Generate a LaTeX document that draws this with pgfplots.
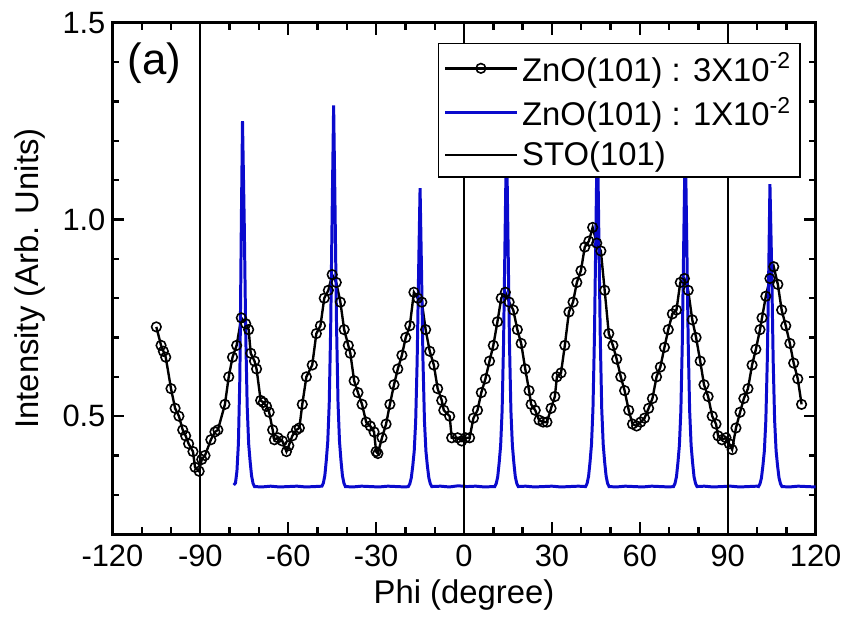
\documentclass[border=0pt]{standalone}
\usepackage{pgfplots}
\pgfplotsset{compat=1.18}
\usepackage{fontspec}
\setmainfont{Liberation Sans}
\definecolor{myblue}{RGB}{10,10,205}
\begin{document}
\begin{tikzpicture}
\begin{axis}[
  width=353.5pt, height=257pt, scale only axis,
  xmin=-120, xmax=120, ymin=0.2, ymax=1.5,
  xtick={-120,-90,...,120},
  minor xtick={-110,-100,-80,-70,-50,-40,-20,-10,10,20,40,50,70,80,100,110},
  ytick={0.5,1.0,1.5},
  minor ytick={0.3,0.4,0.6,0.7,0.8,0.9,1.1,1.2,1.3,1.4},
  major tick length=6pt, minor tick length=3.5pt,
  every tick/.style={black, line width=1.2pt},
  axis line style={line width=1.5pt},
  tick align=inside,
  yticklabel style={/pgf/number format/.cd, fixed, fixed zerofill, precision=1, assume math mode=true},
  xticklabel style={/pgf/number format/assume math mode=true, yshift=-2pt},
  tick label style={font=\fontsize{15.5}{18}\selectfont},
  label style={font=\fontsize{16.5}{19}\selectfont},
  xlabel={Phi (degree)},
  ylabel={Intensity (Arb. Units)},
  xlabel style={at={(axis description cs:0.5,-0.1187)}, anchor=center},
  ylabel style={at={(axis description cs:-0.117,0.5)}, anchor=center, rotate=0},
  unbounded coords=jump,
  legend cell align=left,
  legend style={at={(rel axis cs:0.979,0.961)}, anchor=north east,
    font=\fontsize{16.5}{19}\selectfont, draw=black, line width=0.8pt, fill=white,
    inner sep=2.5pt, row sep=2.5pt},
  legend image code/.code={\draw[mark repeat=2,mark phase=2] plot coordinates {(0pt,0pt) (18pt,0pt) (36pt,0pt)};},
  clip=true,
]
\addplot[black, line width=1.2pt, mark=o, mark size=2.4pt, mark options={fill=white, line width=0.8pt}]
coordinates {
(-105,0.727)(-103.4,0.68)(-102.6,0.665)(-101.8,0.65)(-100,0.57)(-98.6,0.52)(-97.3,0.50)(-96,0.465)(-95,0.45)(-94,0.43)(-92.5,0.41)(-91.8,0.37)(-90.4,0.36)(-89.5,0.39)(-88.4,0.40)(-86.4,0.44)(-85,0.46)(-84,0.465)(-81.6,0.53)(-80.3,0.60)(-79,0.65)(-77.6,0.68)(-76,0.75)(-74.5,0.735)(-73.5,0.72)(-72.8,0.66)(-71.5,0.64)(-70.8,0.62)(-69.4,0.54)(-68.5,0.535)(-67.4,0.525)(-66.5,0.51)(-65.3,0.465)(-64.7,0.44)(-63.5,0.445)(-62,0.437)(-60.6,0.41)(-59.8,0.425)(-58.6,0.45)(-57.2,0.465)(-56.2,0.47)(-55.2,0.53)(-53.8,0.60)(-51.8,0.63)(-50.4,0.71)(-49,0.73)(-47.7,0.80)(-46.3,0.82)(-45,0.86)(-43.6,0.84)(-42.2,0.79)(-40.9,0.72)(-39.5,0.68)(-38.8,0.66)(-37.5,0.59)(-36.2,0.56)(-34.8,0.53)(-33.4,0.485)(-32,0.475)(-30.7,0.46)(-30,0.41)(-29.4,0.405)(-28,0.445)(-26.6,0.48)(-25.3,0.53)(-23.9,0.58)(-22.6,0.62)(-21.2,0.655)(-19.9,0.70)(-18.5,0.73)(-17.1,0.815)(-15.8,0.80)(-14.4,0.79)(-13.1,0.72)(-11.7,0.665)(-10.3,0.63)(-9,0.57)(-7.6,0.54)(-6.9,0.515)(-4.9,0.50)(-4.2,0.445)(-2.2,0.445)(-0.8,0.437)(0.5,0.445)(1.9,0.445)(3.2,0.495)(4.6,0.515)(5.9,0.56)(7.3,0.595)(8.7,0.64)(10,0.68)(11.4,0.74)(12.7,0.80)(14.1,0.815)(15.4,0.79)(16.8,0.77)(18.2,0.72)(19.5,0.685)(20.9,0.62)(22.2,0.565)(22.9,0.53)(24.3,0.515)(25.6,0.49)(27,0.485)(28.3,0.485)(29.7,0.52)(31,0.55)(31.7,0.60)(33.1,0.61)(34.4,0.68)(35.8,0.765)(37.2,0.79)(38.5,0.84)(39.9,0.87)(41.2,0.93)(42.6,0.945)(43.9,0.98)(45.3,0.94)(46.7,0.92)(48,0.82)(49.4,0.71)(50.8,0.68)(52.1,0.645)(53.5,0.60)(54.8,0.565)(56.2,0.515)(57.5,0.48)(58.9,0.475)(60.3,0.485)(61.6,0.495)(63,0.52)(64.3,0.545)(65.7,0.60)(67,0.625)(68.4,0.675)(69.7,0.72)(71.1,0.76)(72.5,0.77)(73.8,0.84)(75.2,0.85)(76.5,0.82)(77.9,0.745)(79.2,0.70)(80.6,0.64)(81.9,0.58)(83.3,0.55)(84.7,0.50)(86,0.48)(86.7,0.45)(88,0.44)(89.4,0.445)(90.5,0.43)(91.5,0.415)(92.8,0.47)(94.2,0.51)(95.5,0.545)(96.9,0.57)(98.3,0.63)(99.6,0.67)(101,0.72)(101.7,0.75)(103,0.805)(104.4,0.85)(105.7,0.88)(107.1,0.835)(108.4,0.77)(109.8,0.73)(111.2,0.685)(112.5,0.635)(113.9,0.595)(115.2,0.53)
};
\addlegendentry{ZnO(101) : 3X10\textsuperscript{-2}}
\addplot[myblue, line width=1.5pt, mark=none]
coordinates {
(-78.6,0.325)(-78,0.33)(-77.5,0.36)(-77,0.43)(-76.5,0.60)(-76,0.99)(-75.6,1.25)(-75,0.99)(-74.5,0.71)(-74,0.525)(-73.5,0.43)(-73,0.385)(-72.5,0.348)(-72,0.329)(-71.5,0.321)
(-69,0.320)(-66,0.322)(-63,0.320)(-60,0.321)(-57,0.322)(-54,0.320)(-51,0.321)(-48.5,0.322)
(-48,0.33)(-47.5,0.349)(-47,0.388)(-46.5,0.436)(-46,0.533)(-45.5,0.727)(-45,1.02)(-44.5,1.29)(-44,1.02)(-43.5,0.727)(-43,0.533)(-42.5,0.436)(-42,0.388)(-41.5,0.349)(-41,0.33)(-40.5,0.321)
(-38,0.320)(-35,0.322)(-32,0.321)(-29,0.320)(-26,0.322)(-23,0.321)(-20,0.320)(-19,0.321)
(-18.5,0.328)(-18,0.343)(-17.5,0.373)(-17,0.411)(-16.5,0.487)(-16,0.639)(-15.5,0.867)(-15,1.08)(-14.5,0.867)(-14,0.639)(-13.5,0.487)(-13,0.411)(-12.5,0.373)(-12,0.343)(-11.5,0.328)(-11,0.321)
(-8,0.322)(-5,0.320)(-2,0.323)(1,0.321)(4,0.322)(7,0.320)(10,0.321)(10.5,0.321)
(11,0.329)(11.5,0.346)(12,0.382)(12.5,0.426)(13,0.514)(13.5,0.69)(14,0.954)(14.5,1.22)(15,0.954)(15.5,0.69)(16,0.514)(16.5,0.426)(17,0.382)(17.5,0.346)(18,0.329)(18.5,0.321)
(21,0.322)(24,0.320)(27,0.321)(30,0.322)(33,0.320)(36,0.321)(39,0.322)(41.5,0.321)
(42,0.329)(42.5,0.347)(43,0.383)(43.5,0.428)(44,0.518)(44.5,0.698)(45,0.968)(45.5,1.24)(46,0.968)(46.5,0.698)(47,0.518)(47.5,0.428)(48,0.383)(48.5,0.347)(49,0.329)(49.5,0.321)
(52,0.320)(55,0.322)(58,0.321)(61,0.320)(64,0.322)(67,0.321)(70,0.320)(71.5,0.321)
(72,0.329)(72.5,0.346)(73,0.382)(73.5,0.426)(74,0.514)(74.5,0.69)(75,0.954)(75.5,1.21)(76,0.954)(76.5,0.69)(77,0.514)(77.5,0.426)(78,0.382)(78.5,0.346)(79,0.329)(79.5,0.321)
(82,0.322)(85,0.320)(88,0.321)(91,0.322)(94,0.320)(97,0.321)(100,0.322)(100.5,0.321)
(101,0.328)(101.5,0.343)(102,0.374)(102.5,0.412)(103,0.489)(103.5,0.643)(104,0.874)(104.4,1.09)(105,0.874)(105.5,0.643)(106,0.489)(106.5,0.412)(107,0.374)(107.5,0.343)(108,0.328)(108.5,0.321)
(111,0.320)(114,0.322)(117,0.321)(120,0.320)
};
\addlegendentry{ZnO(101) : 1X10\textsuperscript{-2}}
\addplot[black, line width=1.1pt, mark=none]
coordinates {
(-90,0.1)(-90,1.6)(-45,nan)(0,0.1)(0,1.6)(45,nan)(90,0.1)(90,1.6)
};
\addlegendentry{STO(101)}
\node[font=\fontsize{22}{24}\selectfont] at (rel axis cs:0.0594,0.922) {(a)};
\end{axis}
\path (current axis.south west) ++(-56.5pt,-45.5pt) rectangle ([shift={(14pt,11.5pt)}]current axis.north east);
\end{tikzpicture}
\end{document}
